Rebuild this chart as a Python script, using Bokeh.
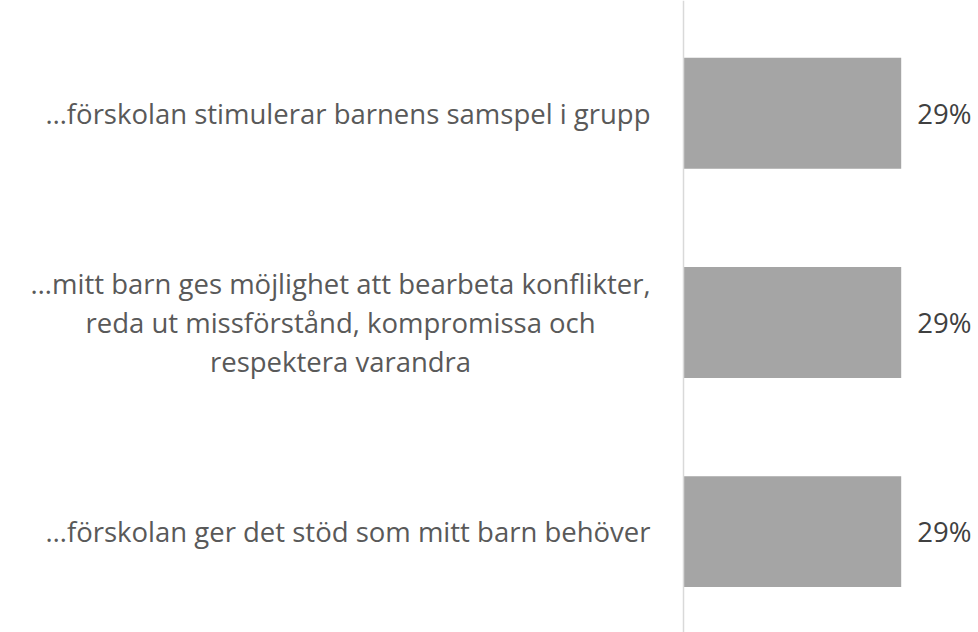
from bokeh.plotting import figure
from bokeh.models import ColumnDataSource, Span, Range1d
from bokeh.core.properties import value
from bokeh.embed import file_html
from bokeh.resources import INLINE

categories = [
    "…förskolan stimulerar barnens samspel i grupp",
    "…mitt barn ges möjlighet att bearbeta konflikter,\nreda ut missförstånd, kompromissa och\nrespektera varandra",
    "…förskolan ger det stöd som mitt barn behöver",
]
values = [29, 29, 29]
value_labels = ["29%", "29%", "29%"]

ypos = list(range(len(categories)))
src = ColumnDataSource(dict(y=ypos, v=values, cat=categories, lab=value_labels,
                            zero=[0] * len(values)))

W, H = 978, 632
AX = 683
p = figure(width=W, height=H, output_backend="svg", toolbar_location=None,
           x_range=Range1d(-AX, W - AX), y_range=Range1d(2.482, -0.539),
           min_border=0, outline_line_color=None)
p.axis.visible = False
p.grid.visible = False
p.background_fill_color = "white"

scale = 217.7 / 29.0
src.data["vx"] = [v * scale for v in values]

p.hbar(y="y", left=0, right="vx", height=0.53, source=src,
       fill_color="#A5A5A5", line_color=None)

p.add_layout(Span(location=0, dimension="height", line_color="#D9D9D9", line_width=1.5))

p.text(x="zero", y="y", text="cat", source=src, x_offset=-33,
       text_align="center", anchor="center_right", text_baseline="middle",
       text_font=value("Open Sans"), text_font_size="27.5px", text_color="#595959",
       text_line_height=1.05)

p.text(x="vx", y="y", text="lab", source=src, x_offset=16,
       text_align="left", text_baseline="middle",
       text_font=value("Open Sans"), text_font_size="27.5px", text_color="#404040")

open("out.html", "w").write(file_html(p, INLINE))
